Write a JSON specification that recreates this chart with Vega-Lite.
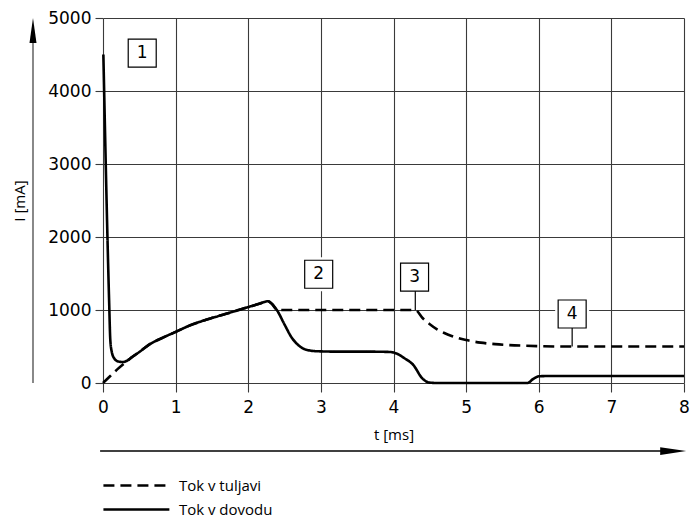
{
  "$schema": "https://vega.github.io/schema/vega-lite/v6.json",
  "width": 581,
  "height": 365,
  "autosize": "none",
  "padding": {"left": 103, "top": 18, "right": 9, "bottom": 138},
  "background": "white",
  "config": {
    "view": {"stroke": null},
    "font": "DejaVu Sans"
  },
  "datasets": {
    "curves": [
      {"t": 0, "I": 0, "series": "Tok v tuljavi"},
      {"t": 0.1, "I": 95, "series": "Tok v tuljavi"},
      {"t": 0.2, "I": 190, "series": "Tok v tuljavi"},
      {"t": 0.3, "I": 275, "series": "Tok v tuljavi"},
      {"t": 0.4, "I": 355, "series": "Tok v tuljavi"},
      {"t": 0.5, "I": 425, "series": "Tok v tuljavi"},
      {"t": 0.65, "I": 535, "series": "Tok v tuljavi"},
      {"t": 0.8, "I": 610, "series": "Tok v tuljavi"},
      {"t": 1.0, "I": 700, "series": "Tok v tuljavi"},
      {"t": 1.2, "I": 790, "series": "Tok v tuljavi"},
      {"t": 1.4, "I": 860, "series": "Tok v tuljavi"},
      {"t": 1.6, "I": 920, "series": "Tok v tuljavi"},
      {"t": 1.8, "I": 980, "series": "Tok v tuljavi"},
      {"t": 2.0, "I": 1040, "series": "Tok v tuljavi"},
      {"t": 2.15, "I": 1085, "series": "Tok v tuljavi"},
      {"t": 2.27, "I": 1120, "series": "Tok v tuljavi"},
      {"t": 2.32, "I": 1090, "series": "Tok v tuljavi"},
      {"t": 2.4, "I": 1000, "series": "Tok v tuljavi"},
      {"t": 3.0, "I": 1000, "series": "Tok v tuljavi"},
      {"t": 4.3, "I": 1000, "series": "Tok v tuljavi"},
      {"t": 4.4, "I": 890, "series": "Tok v tuljavi"},
      {"t": 4.5, "I": 805, "series": "Tok v tuljavi"},
      {"t": 4.6, "I": 735, "series": "Tok v tuljavi"},
      {"t": 4.7, "I": 685, "series": "Tok v tuljavi"},
      {"t": 4.8, "I": 645, "series": "Tok v tuljavi"},
      {"t": 4.9, "I": 612, "series": "Tok v tuljavi"},
      {"t": 5.0, "I": 588, "series": "Tok v tuljavi"},
      {"t": 5.2, "I": 553, "series": "Tok v tuljavi"},
      {"t": 5.4, "I": 532, "series": "Tok v tuljavi"},
      {"t": 5.6, "I": 519, "series": "Tok v tuljavi"},
      {"t": 5.8, "I": 511, "series": "Tok v tuljavi"},
      {"t": 6.0, "I": 505, "series": "Tok v tuljavi"},
      {"t": 6.3, "I": 500, "series": "Tok v tuljavi"},
      {"t": 8.0, "I": 500, "series": "Tok v tuljavi"},
      {"t": 0.005, "I": 4500, "series": "Tok v dovodu"},
      {"t": 0.085, "I": 1100, "series": "Tok v dovodu"},
      {"t": 0.1, "I": 600, "series": "Tok v dovodu"},
      {"t": 0.12, "I": 430, "series": "Tok v dovodu"},
      {"t": 0.16, "I": 330, "series": "Tok v dovodu"},
      {"t": 0.21, "I": 295, "series": "Tok v dovodu"},
      {"t": 0.27, "I": 288, "series": "Tok v dovodu"},
      {"t": 0.33, "I": 305, "series": "Tok v dovodu"},
      {"t": 0.4, "I": 355, "series": "Tok v dovodu"},
      {"t": 0.5, "I": 425, "series": "Tok v dovodu"},
      {"t": 0.65, "I": 535, "series": "Tok v dovodu"},
      {"t": 0.8, "I": 610, "series": "Tok v dovodu"},
      {"t": 1.0, "I": 700, "series": "Tok v dovodu"},
      {"t": 1.2, "I": 790, "series": "Tok v dovodu"},
      {"t": 1.4, "I": 860, "series": "Tok v dovodu"},
      {"t": 1.6, "I": 920, "series": "Tok v dovodu"},
      {"t": 1.8, "I": 980, "series": "Tok v dovodu"},
      {"t": 2.0, "I": 1040, "series": "Tok v dovodu"},
      {"t": 2.15, "I": 1085, "series": "Tok v dovodu"},
      {"t": 2.27, "I": 1120, "series": "Tok v dovodu"},
      {"t": 2.32, "I": 1090, "series": "Tok v dovodu"},
      {"t": 2.4, "I": 990, "series": "Tok v dovodu"},
      {"t": 2.5, "I": 800, "series": "Tok v dovodu"},
      {"t": 2.6, "I": 620, "series": "Tok v dovodu"},
      {"t": 2.7, "I": 510, "series": "Tok v dovodu"},
      {"t": 2.8, "I": 455, "series": "Tok v dovodu"},
      {"t": 2.95, "I": 435, "series": "Tok v dovodu"},
      {"t": 3.2, "I": 430, "series": "Tok v dovodu"},
      {"t": 3.6, "I": 430, "series": "Tok v dovodu"},
      {"t": 3.95, "I": 425, "series": "Tok v dovodu"},
      {"t": 4.05, "I": 400, "series": "Tok v dovodu"},
      {"t": 4.15, "I": 340, "series": "Tok v dovodu"},
      {"t": 4.27, "I": 250, "series": "Tok v dovodu"},
      {"t": 4.4, "I": 60, "series": "Tok v dovodu"},
      {"t": 4.5, "I": 5, "series": "Tok v dovodu"},
      {"t": 4.6, "I": 0, "series": "Tok v dovodu"},
      {"t": 5.5, "I": 0, "series": "Tok v dovodu"},
      {"t": 5.84, "I": 0, "series": "Tok v dovodu"},
      {"t": 5.93, "I": 60, "series": "Tok v dovodu"},
      {"t": 6.0, "I": 92, "series": "Tok v dovodu"},
      {"t": 6.1, "I": 95, "series": "Tok v dovodu"},
      {"t": 8.0, "I": 95, "series": "Tok v dovodu"}
    ],
    "boxes": [
      {"label": "1", "t": 0.54, "I": 4520, "gap": false},
      {"label": "2", "t": 2.97, "I": 1490, "gap": true},
      {"label": "3", "t": 4.29, "I": 1450, "gap": true},
      {"label": "4", "t": 6.46, "I": 945, "gap": true}
    ],
    "leaders": [
      {"t": 4.3, "I": 1450, "I2": 1000},
      {"t": 6.46, "I": 945, "I2": 500}
    ],
    "one": [{}]
  },
  "layer": [
    {
      "data": {"name": "curves"},
      "mark": {"type": "line", "color": "black", "strokeWidth": 2.6, "interpolate": "monotone", "strokeCap": "butt"},
      "encoding": {
        "x": {
          "field": "t", "type": "quantitative",
          "scale": {"domain": [0, 8], "nice": false, "zero": false},
          "axis": {
            "values": [0, 1, 2, 3, 4, 5, 6, 7, 8],
            "format": "d",
            "title": "t [ms]",
            "titleFont": "Open Sans", "titleFontSize": 15, "titleFontWeight": "normal", "titleColor": "black",
            "titlePadding": 12,
            "grid": true, "gridColor": "#3a3a3a", "gridWidth": 1.1,
            "domain": false,
            "tickSize": 9, "tickColor": "#3a3a3a", "tickWidth": 1.1,
            "labelFontSize": 17, "labelColor": "black", "labelPadding": 7,
            "labelFlush": false
          }
        },
        "y": {
          "field": "I", "type": "quantitative",
          "scale": {"domain": [0, 5000], "nice": false, "zero": false},
          "axis": {
            "values": [0, 500, 1000, 1500, 2000, 2500, 3000, 3500, 4000, 4500, 5000],
            "format": "d",
            "labelExpr": "datum.value % 1000 === 0 ? datum.label : ''",
            "title": "I [mA]",
            "titleFont": "Open Sans", "titleFontSize": 15, "titleFontWeight": "normal", "titleColor": "black",
            "titlePadding": 20,
            "grid": true, "gridColor": "#3a3a3a", "gridWidth": 1.1,
            "domain": false,
            "tickSize": 8, "tickColor": "#3a3a3a", "tickWidth": 1.1,
            "labelFontSize": 17, "labelColor": "black", "labelPadding": 4,
            "labelFlush": false
          }
        },
        "strokeDash": {
          "field": "series", "type": "nominal",
          "scale": {"domain": ["Tok v tuljavi", "Tok v dovodu"], "range": [[11, 6], [1, 0]]},
          "legend": {
            "title": null,
            "orient": "none",
            "legendX": 25.4,
            "legendY": 459.5,
            "direction": "vertical",
            "padding": 0,
            "rowPadding": 8,
            "symbolType": "M-5,0L5,0",
            "symbolSize": 174,
            "symbolStrokeWidth": 2.5,
            "symbolStrokeColor": "black",
            "symbolFillColor": "transparent",
            "labelFont": "Open Sans",
            "labelFontSize": 15,
            "labelColor": "black",
            "labelOffset": 34.5
          }
        }
      }
    },
    {
      "data": {"name": "one"},
      "mark": {"type": "rule", "color": "#888888", "strokeWidth": 2},
      "encoding": {
        "x": {"datum": -0.964, "type": "quantitative"},
        "y": {"datum": 0, "type": "quantitative"},
        "y2": {"datum": 4700}
      }
    },
    {
      "data": {"name": "one"},
      "mark": {"type": "point", "shape": "M0,0L0.28,2L-0.28,2Z", "size": 625, "filled": true, "color": "black", "opacity": 1},
      "encoding": {
        "x": {"datum": -0.964, "type": "quantitative"},
        "y": {"datum": 5000, "type": "quantitative"}
      }
    },
    {
      "data": {"name": "one"},
      "mark": {"type": "rule", "color": "black", "strokeWidth": 1.5},
      "encoding": {
        "x": {"datum": -0.04, "type": "quantitative"},
        "x2": {"datum": 7.8},
        "y": {"datum": -932, "type": "quantitative"}
      }
    },
    {
      "data": {"name": "one"},
      "mark": {"type": "point", "shape": "M0,0L-2,-0.3L-2,0.3Z", "size": 676, "filled": true, "color": "black", "opacity": 1},
      "encoding": {
        "x": {"datum": 8.03, "type": "quantitative"},
        "y": {"datum": -932, "type": "quantitative"}
      }
    },
    {
      "data": {"name": "boxes"},
      "transform": [{"filter": "datum.gap"}],
      "mark": {"type": "point", "shape": "square", "size": 1156, "filled": true, "color": "white", "opacity": 1, "strokeWidth": 0},
      "encoding": {
        "x": {"field": "t", "type": "quantitative"},
        "y": {"field": "I", "type": "quantitative"}
      }
    },
    {
      "data": {"name": "leaders"},
      "mark": {"type": "rule", "color": "black", "strokeWidth": 1.2},
      "encoding": {
        "x": {"field": "t", "type": "quantitative"},
        "y": {"field": "I", "type": "quantitative"},
        "y2": {"field": "I2"}
      }
    },
    {
      "data": {"name": "boxes"},
      "mark": {"type": "point", "shape": "square", "size": 784, "filled": false, "fill": "white", "fillOpacity": 1, "stroke": "black", "strokeWidth": 1.2, "opacity": 1},
      "encoding": {
        "x": {"field": "t", "type": "quantitative"},
        "y": {"field": "I", "type": "quantitative"}
      }
    },
    {
      "data": {"name": "boxes"},
      "mark": {"type": "text", "fontSize": 17, "font": "DejaVu Sans", "color": "black", "align": "center", "baseline": "middle"},
      "encoding": {
        "x": {"field": "t", "type": "quantitative"},
        "y": {"field": "I", "type": "quantitative"},
        "text": {"field": "label"}
      }
    }
  ]
}
